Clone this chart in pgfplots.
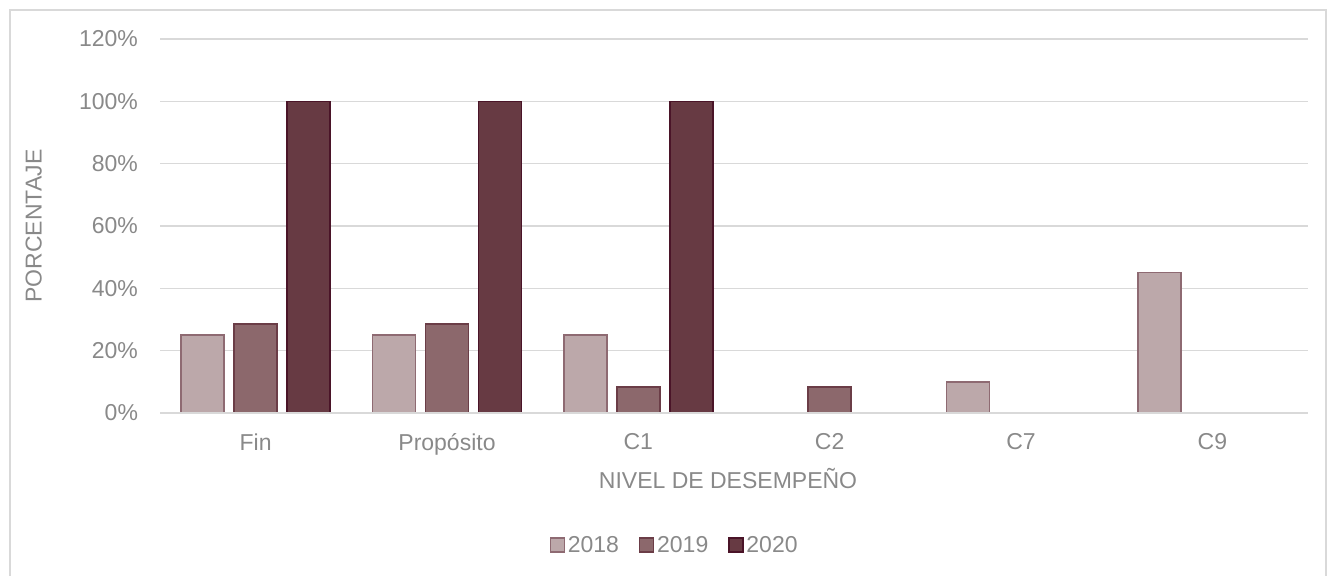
\documentclass[border=0pt]{standalone}
\usepackage{pgfplots}
\pgfplotsset{compat=1.18}
\usepackage{fontspec}
\setmainfont{Liberation Sans}
\definecolor{txt}{HTML}{898989}
\definecolor{grd}{HTML}{D9D9D9}
\definecolor{fA}{HTML}{BCA8AA}
\definecolor{eA}{HTML}{8E6A72}
\definecolor{fB}{HTML}{8C686C}
\definecolor{eB}{HTML}{6B3D47}
\definecolor{fC}{HTML}{673A43}
\definecolor{eC}{HTML}{4A1428}
\newcommand{\chartfont}{\fontsize{17.25}{20}\selectfont}
\begin{document}
\begin{tikzpicture}
\useasboundingbox (0,0) rectangle (995.25pt,431.25pt);
\draw[grd, line width=0.9pt] (7.5pt,-1pt) rectangle (994.5pt,423.75pt);
\begin{axis}[
  at={(120pt,121.5pt)}, anchor=south west,
  scale only axis, width=861pt, height=280.5pt,
  ybar=7.5pt, bar width=32.25pt,
  xmin=-0.5, xmax=5.5, ymin=0, ymax=120,
  xtick={0,1,2,3,4,5},
  xticklabels={Fin,Propósito,C1,C2,C7,C9},
  ytick={0,20,40,60,80,100,120},
  yticklabel={\pgfmathprintnumber{\tick}\%},
  /pgf/number format/assume math mode=true,
  ymajorgrids, grid style={grd, line width=0.9pt},
  axis line style={draw=none},
  axis x line*=bottom, axis y line*=left,
  major tick length=0pt,
  tick label style={font=\chartfont, text=txt},
  yticklabel style={xshift=-13pt},
  xticklabel style={yshift=-12pt},
  xlabel={NIVEL DE DESEMPEÑO},
  ylabel={PORCENTAJE},
  every axis x label/.style={at={(axis description cs:0.4948,-0.174)}, anchor=center, font=\chartfont, text=txt},
  every axis y label/.style={at={(axis description cs:-0.110,0.5)}, rotate=90, anchor=center, font=\chartfont, text=txt},
  legend style={at={(axis description cs:0.4486,-0.353)}, anchor=center, draw=none, fill=none,
    legend columns=3, font=\chartfont, text=txt,
    /tikz/every even column/.style={column sep=13pt},
    /tikz/every odd column/.style={column sep=0pt}},
  legend cell align=left,
  legend image code/.code={\draw[#1, line width=1.1pt] (0pt,-5.25pt) rectangle (10.5pt,5.25pt);},
  clip=false,
]
\addplot[fill=fA, draw=eA, line width=1.1pt] coordinates {(0,25) (1,25) (2,25) (3,0) (4,10) (5,45)};
\addplot[fill=fB, draw=eB, line width=1.1pt] coordinates {(0,28.57) (1,28.57) (2,8.33) (3,8.33) (4,0) (5,0)};
\addplot[fill=fC, draw=eC, line width=1.1pt] coordinates {(0,100) (1,100) (2,100) (3,0) (4,0) (5,0)};
\draw[grd, line width=0.9pt] (rel axis cs:0,0) -- (rel axis cs:1,0);
\legend{2018,2019,2020}
\end{axis}
\end{tikzpicture}
\end{document}
